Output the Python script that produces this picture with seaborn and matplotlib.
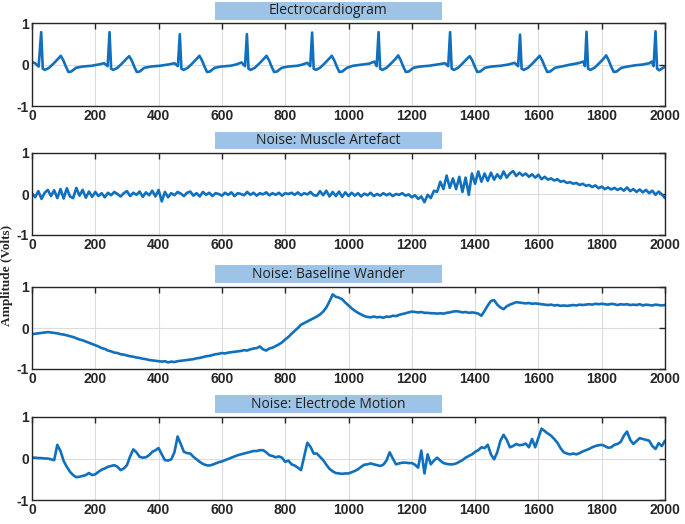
import numpy as np
import pandas as pd
import seaborn as sns
import matplotlib.pyplot as plt
from matplotlib.patches import Rectangle

# ---- data ----
titles = ["Electrocardiogram", "Noise: Muscle Artefact",
          "Noise: Baseline Wander", "Noise: Electrode Motion"]

# ECG: knots (sample, amplitude), R peaks near 29, 245, 467, 679, 885, 1095, 1321, 1542, 1752, 1970
ecg_x = [0, 10, 21, 29, 34, 41, 54, 69, 84, 91, 99, 107, 115, 124, 139, 159, 189,
         210, 228, 239,
         245, 250, 257, 270, 285, 300, 307, 315, 323, 331, 340, 355, 375, 405, 430, 450, 461,
         467, 472, 479, 492, 507, 522, 529, 537, 545, 553, 562, 577, 597, 627, 645, 662, 673,
         679, 684, 691, 704, 719, 734, 741, 749, 757, 765, 774, 789, 809, 839, 855, 870, 879,
         885, 890, 897, 910, 925, 940, 947, 955, 963, 971, 980, 995, 1015, 1045, 1065, 1082, 1089,
         1095, 1100, 1107, 1120, 1135, 1150, 1157, 1165, 1173, 1181, 1190, 1205, 1225, 1255, 1280, 1305, 1315,
         1321, 1326, 1333, 1346, 1361, 1376, 1383, 1391, 1399, 1407, 1416, 1431, 1451, 1481, 1505, 1525, 1536,
         1542, 1547, 1554, 1567, 1582, 1597, 1604, 1612, 1620, 1628, 1637, 1652, 1672, 1702, 1725, 1742, 1747,
         1752, 1757, 1764, 1777, 1792, 1807, 1814, 1822, 1830, 1838, 1847, 1862, 1882, 1905, 1930, 1950, 1958, 1964,
         1970, 1975, 1982, 1990, 2000]
ecg_y = [0.06, 0.03, -0.05, 0.78, -0.1, -0.13, -0.08, 0.03, 0.15, 0.21, 0.1, -0.05, -0.18, -0.17, -0.08, -0.05, -0.03,
         0.0, 0.03, -0.04,
         0.78, -0.1, -0.13, -0.08, 0.03, 0.15, 0.2, 0.1, -0.05, -0.18, -0.17, -0.08, -0.05, -0.03, 0.0, 0.03, -0.04,
         0.73, -0.1, -0.13, -0.08, 0.03, 0.15, 0.21, 0.1, -0.05, -0.18, -0.17, -0.08, -0.05, -0.03, 0.0, 0.05, -0.04,
         0.73, -0.1, -0.13, -0.08, 0.03, 0.15, 0.21, 0.1, -0.05, -0.18, -0.17, -0.08, -0.05, -0.03, 0.0, 0.04, -0.04,
         0.77, -0.1, -0.13, -0.08, 0.03, 0.15, 0.21, 0.1, -0.05, -0.18, -0.17, -0.08, -0.03, 0.0, 0.02, 0.07, -0.04,
         0.78, -0.1, -0.13, -0.08, 0.03, 0.15, 0.22, 0.1, -0.05, -0.18, -0.17, -0.08, -0.05, -0.03, 0.0, 0.03, -0.04,
         0.78, -0.1, -0.13, -0.08, 0.03, 0.15, 0.2, 0.1, -0.05, -0.18, -0.17, -0.08, -0.05, -0.03, 0.0, 0.04, -0.04,
         0.72, -0.1, -0.13, -0.08, 0.03, 0.15, 0.21, 0.1, -0.05, -0.18, -0.17, -0.08, -0.05, 0.0, 0.03, 0.07, -0.04,
         0.79, -0.1, -0.13, -0.08, 0.03, 0.15, 0.22, 0.1, -0.05, -0.18, -0.17, -0.08, -0.05, -0.02, 0.0, 0.03, 0.07, -0.04,
         0.8, -0.1, -0.14, -0.1, -0.05]

# noise records, one value every 10 samples (0..2000)
muscle = [0.02, -0.08, 0.07, -0.12, 0.03, 0.1, -0.05, 0.09, -0.1, 0.12, -0.11, 0.14, -0.06, -0.1, 0.15, -0.04, 0.1, -0.09, 0.06, -0.07,
          0.05, -0.05, 0.02, -0.08, 0.03, -0.03, 0.05, 0.0, -0.06, 0.02, 0.07, -0.05, 0.03, -0.02, 0.06, -0.07, 0.04, -0.03, 0.08, -0.06,
          0.1, -0.18, 0.05, -0.08, 0.02, -0.03, 0.05, 0.01, -0.05, 0.03, 0.06, -0.04, 0.02, -0.06, 0.05, -0.02, 0.03, -0.05, 0.02, 0.0,
          -0.04, 0.03, -0.02, 0.04, -0.05, 0.02, 0.0, -0.03, 0.05, -0.02, 0.03, -0.04, 0.02, -0.01, 0.04, -0.03, 0.02, -0.02, 0.03, -0.04,
          0.02, 0.0, 0.03, -0.02, 0.04, -0.03, 0.02, -0.01, 0.05, -0.03, -0.04, 0.07, -0.03, 0.08, -0.06, 0.05, -0.05, 0.06, -0.07, 0.04,
          -0.05, 0.03, -0.04, 0.02, -0.06, 0.01, -0.03, 0.03, -0.05, 0.0, -0.04, 0.02, -0.03, 0.01, -0.05, 0.0, -0.02, 0.02, -0.04, -0.01,
          -0.08, -0.03, -0.12, -0.06, -0.2, -0.02, -0.1, 0.08, 0.05, 0.3, 0.12, 0.45, 0.15, 0.38, 0.12, 0.42, 0.05, 0.4, -0.02, 0.5,
          0.25, 0.55, 0.3, 0.5, 0.32, 0.52, 0.35, 0.48, 0.38, 0.55, 0.4, 0.5, 0.56, 0.44, 0.52, 0.45, 0.5, 0.42, 0.48, 0.4,
          0.47, 0.36, 0.42, 0.35, 0.38, 0.33, 0.36, 0.3, 0.32, 0.27, 0.29, 0.25, 0.27, 0.22, 0.25, 0.2, 0.22, 0.17, 0.21, 0.14,
          0.18, 0.12, 0.16, 0.11, 0.15, 0.1, 0.14, 0.08, 0.16, 0.07, 0.12, 0.05, 0.11, 0.04, 0.1, 0.02, 0.08, -0.02, 0.06, -0.01,
          -0.1]
baseline = [-0.15, -0.14, -0.13, -0.12, -0.11, -0.1, -0.11, -0.12, -0.13, -0.15,
            -0.16, -0.18, -0.2, -0.22, -0.25, -0.28, -0.3, -0.33, -0.36, -0.39,
            -0.42, -0.45, -0.49, -0.51, -0.55, -0.57, -0.6, -0.61, -0.64, -0.65,
            -0.67, -0.69, -0.7, -0.72, -0.73, -0.75, -0.76, -0.78, -0.79, -0.8,
            -0.81, -0.82, -0.81, -0.84, -0.82, -0.83, -0.81, -0.8, -0.79, -0.78,
            -0.77, -0.76, -0.74, -0.73, -0.71, -0.69, -0.68, -0.66, -0.64, -0.63,
            -0.61, -0.62, -0.6, -0.59, -0.58, -0.57, -0.56, -0.54, -0.55, -0.52,
            -0.5, -0.49, -0.45, -0.52, -0.55, -0.5, -0.48, -0.44, -0.4, -0.35,
            -0.28, -0.22, -0.14, -0.07, 0.0, 0.08, 0.12, 0.16, 0.2, 0.24,
            0.28, 0.33, 0.4, 0.5, 0.65, 0.82, 0.76, 0.74, 0.7, 0.62,
            0.55, 0.48, 0.42, 0.37, 0.33, 0.29, 0.27, 0.26, 0.28, 0.26,
            0.27, 0.25, 0.28, 0.27, 0.3, 0.29, 0.32, 0.34, 0.36, 0.38,
            0.4, 0.39, 0.38, 0.39, 0.37, 0.37, 0.36, 0.36, 0.35, 0.36,
            0.35, 0.37, 0.38, 0.4, 0.41, 0.4, 0.38, 0.39, 0.37, 0.38,
            0.37, 0.35, 0.3, 0.42, 0.55, 0.66, 0.68, 0.57, 0.5, 0.46,
            0.53, 0.57, 0.6, 0.63, 0.62, 0.61, 0.6, 0.61, 0.59, 0.6,
            0.59, 0.58, 0.57, 0.56, 0.57, 0.55, 0.56, 0.54, 0.55, 0.54,
            0.55, 0.56, 0.55, 0.57, 0.56, 0.57, 0.58, 0.57, 0.59, 0.58,
            0.59, 0.58, 0.57, 0.59, 0.58, 0.56, 0.58, 0.57, 0.58, 0.56,
            0.57, 0.56, 0.58, 0.55, 0.57, 0.56, 0.55, 0.57, 0.56, 0.55,
            0.56]
electrode = [0.02, 0.02, 0.01, 0.01, 0.0, 0.0, -0.02, -0.04, 0.33, 0.18,
             -0.06, -0.2, -0.32, -0.4, -0.45, -0.44, -0.42, -0.4, -0.35, -0.4,
             -0.38, -0.32, -0.27, -0.24, -0.2, -0.18, -0.16, -0.2, -0.28, -0.24,
             -0.16, 0.05, 0.22, 0.15, 0.04, 0.02, 0.03, 0.08, 0.16, 0.2,
             0.25, 0.1, -0.04, -0.05, -0.02, 0.15, 0.53, 0.35, 0.16, 0.13,
             0.12, 0.04, -0.02, -0.08, -0.13, -0.16, -0.17, -0.15, -0.12, -0.09,
             -0.07, -0.04, -0.01, 0.02, 0.05, 0.08, 0.1, 0.12, 0.14, 0.16,
             0.18, 0.18, 0.2, 0.2, 0.15, 0.08, 0.06, 0.03, 0.05, 0.02,
             -0.08, -0.05, -0.14, -0.17, -0.22, -0.28, 0.05, 0.38, 0.28, 0.12,
             0.12, 0.04, -0.04, -0.15, -0.25, -0.31, -0.35, -0.36, -0.37, -0.36,
             -0.36, -0.33, -0.3, -0.26, -0.2, -0.15, -0.14, -0.12, -0.14, -0.16,
             -0.18, -0.15, -0.05, 0.15, 0.0, -0.14, -0.12, -0.1, -0.1, -0.11,
             -0.11, -0.15, -0.22, 0.19, -0.36, 0.1, -0.14, -0.05, 0.02, -0.05,
             -0.11, -0.13, -0.14, -0.14, -0.12, -0.08, -0.04, 0.02, 0.06, 0.1,
             0.16, 0.2, 0.27, 0.25, 0.33, 0.1, -0.02, 0.15, 0.43, 0.57,
             0.45, 0.27, 0.3, 0.35, 0.32, 0.33, 0.36, 0.27, 0.47, 0.27,
             0.5, 0.72, 0.66, 0.6, 0.55, 0.47, 0.38, 0.25, 0.15, 0.12,
             0.1, 0.12, 0.1, 0.13, 0.17, 0.2, 0.23, 0.27, 0.3, 0.32,
             0.33, 0.3, 0.26, 0.27, 0.33, 0.35, 0.4, 0.55, 0.65, 0.45,
             0.35, 0.42, 0.49, 0.47, 0.45, 0.43, 0.3, 0.23, 0.37, 0.3,
             0.43]
noise_x = np.arange(0, 2001, 10)

xticks = [0, 200, 400, 600, 800, 1000, 1200, 1400, 1600, 1800, 2000]
yticks = [-1, 0, 1]

series = [pd.DataFrame({"n": ecg_x, "v": ecg_y}),
          pd.DataFrame({"n": noise_x, "v": muscle}),
          pd.DataFrame({"n": noise_x, "v": baseline}),
          pd.DataFrame({"n": noise_x, "v": electrode})]

# ---- drawing ----
sns.set_style("white")
plt.rcParams['font.family'] = ['Liberation Sans', 'DejaVu Sans']
plt.rcParams['axes.unicode_minus'] = False

fig = plt.figure(figsize=(6.85, 5.24), dpi=100)
W, H = 685, 524
# axes boxes in pixels: (top, bottom)
boxes = [(23, 106), (153, 235), (287, 369), (417, 500)]
title_boxes = [(2, 20), (132, 149), (265, 283), (395, 413)]
left, right = 32, 665
line_col = "#1170BD"

for i, df in enumerate(series):
    top, bot = boxes[i]
    ax = fig.add_axes([left / W, 1 - bot / H, (right - left) / W, (bot - top) / H])
    sns.lineplot(data=df, x="n", y="v", ax=ax, color=line_col, linewidth=1.9, estimator=None)
    ax.set_xlim(0, 2000)
    ax.set_ylim(-1, 1)
    ax.set_xticks(xticks)
    ax.set_yticks(yticks)
    ax.set_xlabel("")
    ax.set_ylabel("")
    ax.grid(True, color="#dcdcdc", linewidth=0.8)
    ax.tick_params(direction="in", top=True, right=True, length=4, width=1, color="#262626",
                   labelsize=10, pad=2)
    for lab in ax.get_xticklabels() + ax.get_yticklabels():
        lab.set_fontweight("bold")
    for sp in ax.spines.values():
        sp.set_color("#262626")
        sp.set_linewidth(1.0)

    # title in a light blue box
    t0, t1 = title_boxes[i]
    fig.add_artist(Rectangle((215 / W, 1 - t1 / H), (442 - 215) / W, (t1 - t0) / H,
                             transform=fig.transFigure, facecolor="#9DC3E6", edgecolor="none"))
    fig.text(328.5 / W, 1 - (t0 + t1) / 2 / H, titles[i], ha="center", va="center",
             fontsize=10, family=["Open Sans", "DejaVu Sans"], color="#202020")

fig.text(7 / W, 1 - 275 / H, "Amplitude (Volts)", rotation=90, ha="center", va="center",
         fontsize=9.5, fontweight="bold", family=["Liberation Serif", "DejaVu Serif"])

fig.savefig("out.png", dpi=100)
